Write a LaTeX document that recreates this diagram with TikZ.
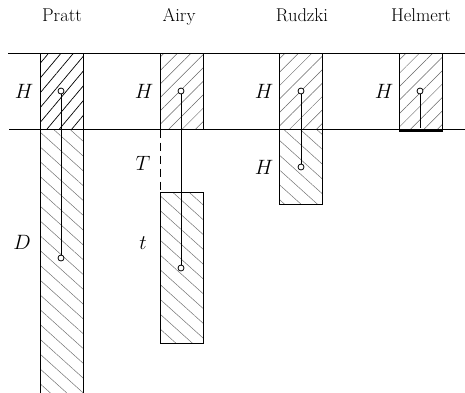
\documentclass[tikz,border=0pt]{standalone}
\usepackage{amsmath}
\usetikzlibrary{patterns.meta,positioning}
\tikzset{
  col/.style={draw, line width=1pt, inner sep=0pt, minimum width=43pt, anchor=north west},
  upper/.style={pattern={Lines[angle=45,distance=9.5pt,line width=0.5pt]}, pattern color=black!60},
  upperdark/.style={pattern={Lines[angle=50,distance=9.5pt,line width=0.7pt]}, pattern color=black},
  lower/.style={pattern={Lines[angle=-42,distance=11pt,line width=0.5pt]}, pattern color=black!55},
  pt/.style={circle, draw, fill=white, inner sep=0pt, minimum size=6pt, line width=0.8pt},
  rod/.style={line width=0.9pt},
  lbl/.style={font=\fontsize{22}{26}\selectfont, anchor=base, inner sep=0pt},
  ttl/.style={font=\fontsize{18.5}{22}\selectfont, anchor=base, inner sep=0pt},
  ground/.style={line width=1pt},
}
\begin{document}
\begin{tikzpicture}[x=1pt,y=-1pt]
    \useasboundingbox (0,0) rectangle (465,392);
    \clip (0,0) rectangle (465,392);
    % titles
    \node[ttl] (tPratt) at (62,21) {Pratt};
    \node[ttl] (tAiry) at (179,21) {Airy};
    \node[ttl] (tRudzki) at (302,21) {Rudzki};
    \node[ttl] (tHelmert) at (421,21) {Helmert};
    % columns
    \node[col,upperdark,minimum height=76pt] (prattH) at (40,53) {};
    \node[col,lower,minimum height=280pt] (prattD) at (40,129) {};
    \node[col,upper,minimum height=76pt] (airyH) at (160,53) {};
    \node[col,lower,minimum height=151pt] (airyt) at (160,192) {};
    \node[col,upper,minimum height=76pt] (rudzkiH) at (279,53) {};
    \node[col,lower,minimum height=75pt] (rudzkiL) at (279,129) {};
    \node[col,upper,minimum height=76pt] (helmertH) at (399,53) {};
    % levels
    \draw[ground] (8,53) -- (465,53);
    \draw[ground] (9,129) -- (465,129);
    \draw[line width=3pt] (helmertH.south west) -- (helmertH.south east);
    \draw[line width=1pt, dash pattern=on 8pt off 5pt] (airyH.south west) -- (airyt.north west);
    % mass centres
    \node[pt] (prattA) at (61,91) {};
    \node[pt] (prattB) at (61,258) {};
    \node[pt] (airyA) at (181,91) {};
    \node[pt] (airyB) at (181,268) {};
    \node[pt] (rudzkiA) at (301,91) {};
    \node[pt] (rudzkiB) at (301,167) {};
    \node[pt] (helmertA) at (420,91) {};
    \coordinate (helmertBase) at (420,128);
    \draw[rod] (prattA) -- (prattB);
    \draw[rod] (airyA) -- (airyB);
    \draw[rod] (rudzkiA) -- (rudzkiB);
    \draw[rod] (helmertA) -- (helmertBase);
    % labels
    \node[lbl] (hPratt) at (24,98) {$H$};
    \node[lbl] (dPratt) at (22,249) {$D$};
    \node[lbl] (hAiry) at (144,98) {$H$};
    \node[lbl] (tAiryT) at (143,170) {$T$};
    \node[lbl] (tAiryt) at (143,249) {$t$};
    \node[lbl] (hRudzki) at (264,98) {$H$};
    \node[lbl] (hRudzkiL) at (264,174) {$H$};
    \node[lbl] (hHelmert) at (384,98) {$H$};
\end{tikzpicture}
\end{document}
